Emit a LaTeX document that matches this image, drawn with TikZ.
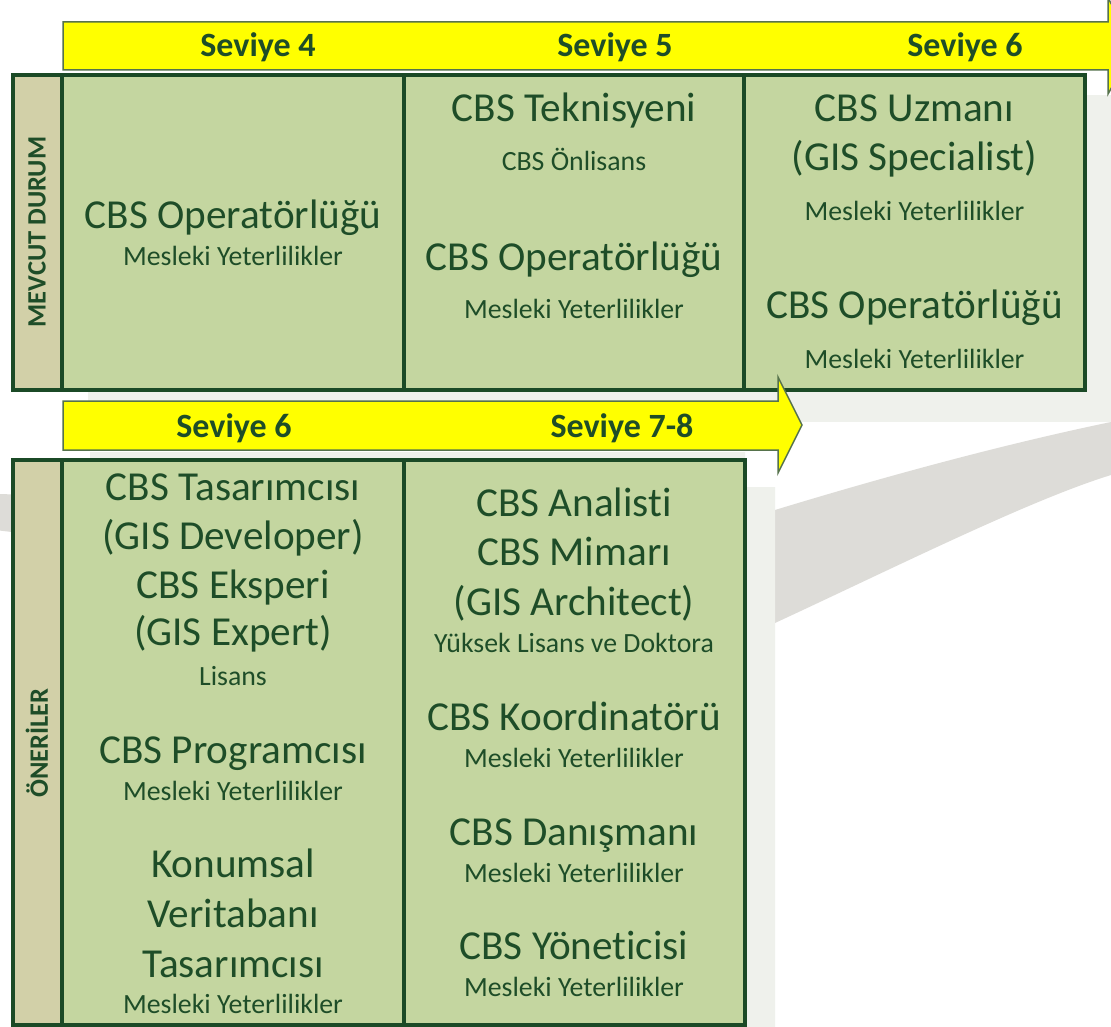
\documentclass[tikz,border=0pt]{standalone}
\usepackage{fontspec}
\setmainfont{Carlito}[Ligatures={NoCommon}]
\definecolor{txt}{HTML}{1E4D28}
\definecolor{edge}{HTML}{1B4A26}
\definecolor{cell}{HTML}{C4D6A0}
\definecolor{lab}{HTML}{D2D0A8}
\definecolor{bar}{HTML}{FFFF00}
\definecolor{barline}{HTML}{56734C}
\definecolor{swoosh}{HTML}{DDDCD8}
\definecolor{panel}{HTML}{EFF1EC}
\newcommand\cbsbig[4]{\node[bigt] (#1) at (#2,#3) {#4};}
\newcommand\cbssmall[4]{\node[smallt] (#1) at (#2,#3) {#4};}
\begin{document}
\begin{tikzpicture}[x=1pt,y=-1pt,
  cellbox/.style={fill=cell, draw=edge, line width=4pt},
  labbox/.style={fill=lab, draw=edge, line width=4pt},
  barshape/.style={fill=bar, draw=barline, line width=1.5pt, line join=miter},
  bigt/.style={anchor=base, text=txt, inner sep=0pt, font=\fontsize{41.2}{48}\selectfont},
  smallt/.style={anchor=base, text=txt, inner sep=0pt, font=\fontsize{27.8}{32}\selectfont},
  levt/.style={anchor=base, text=txt, inner sep=0pt, font=\bfseries\fontsize{34}{40}\selectfont},
  vlab/.style={rotate=90, anchor=center, text=txt, inner sep=0pt, font=\bfseries\fontsize{26.5}{30}\selectfont}]
\clip (0,0) rectangle (1111,1027);
\fill[white] (0,0) rectangle (1111,1027);
% background swoosh
\fill[swoosh] (-5,494) -- (775,510) .. controls (880,478) and (1000,445) .. (1111,422)
  -- (1120,420) -- (1120,472) -- (1111,475) .. controls (1030,500) and (900,565) .. (775,623)
  -- (-5,530) -- cycle;
% faint panels
\fill[panel] (88,95) rectangle (1111,422);
\fill[panel] (90,452) -- (745,452) -- (745,487) -- (775,487) -- (775,1030) -- (90,1030) -- cycle;
% top level bar
\draw[barshape] (63,22) -- (1108,22) -- (1108,-2) -- (1135,46) -- (1108,94) -- (1108,70) -- (63,70) -- cycle;
\node[levt] (s4) at (258,57) {Seviye 4};
\node[levt] (s5) at (615,57) {Seviye 5};
\node[levt] (s6a) at (965,57) {Seviye 6};
% top box
\draw[labbox] (13,75) rectangle (62,390);
\draw[cellbox] (62,75) rectangle (404,390);
\draw[cellbox] (404,75) rectangle (744,390);
\draw[cellbox] (744,75) rectangle (1085,390);
\node[vlab] (mevcut) at (37,232) {MEVCUT DURUM};
\cbsbig{a1}{233}{228.5}{CBS Operatörlüğü}
\cbssmall{a2}{233}{265.5}{Mesleki Yeterlilikler}
\cbsbig{b1}{574}{122}{CBS Teknisyeni}
\cbssmall{b2}{574}{170.5}{CBS Önlisans}
\cbsbig{b3}{574}{270.5}{CBS Operatörlüğü}
\cbssmall{b4}{574}{318.5}{Mesleki Yeterlilikler}
\cbsbig{c1}{914.5}{121.5}{CBS Uzmanı}
\cbsbig{c2}{914.5}{170.5}{(GIS Specialist)}
\cbssmall{c3}{914.5}{220.5}{Mesleki Yeterlilikler}
\cbsbig{c4}{914.5}{318.5}{CBS Operatörlüğü}
\cbssmall{c5}{914.5}{368.5}{Mesleki Yeterlilikler}
% second level bar
\draw[barshape] (63,401) -- (778,401) -- (778,377) -- (802,425) -- (778,473) -- (778,450) -- (63,450) -- cycle;
\node[levt] (s6b) at (234,437) {Seviye 6};
\node[levt] (s78) at (622,437) {Seviye 7-8};
% bottom box
\draw[labbox] (13,460) rectangle (62,1025);
\draw[cellbox] (62,460) rectangle (404,1025);
\draw[cellbox] (404,460) rectangle (745,1025);
\node[vlab] (oneri) at (37,743) {ÖNERİLER};
\cbsbig{d1}{233}{500}{CBS Tasarımcısı}
\cbsbig{d2}{233}{549}{(GIS Developer)}
\cbsbig{d3}{233}{598}{CBS Eksperi}
\cbsbig{d4}{233}{645}{(GIS Expert)}
\cbssmall{d5}{233}{685}{Lisans}
\cbsbig{d6}{233}{763}{CBS Programcısı}
\cbssmall{d7}{233}{800}{Mesleki Yeterlilikler}
\cbsbig{d8}{233}{877}{Konumsal}
\cbsbig{d9}{233}{927}{Veritabanı}
\cbsbig{d10}{233}{977}{Tasarımcısı}
\cbssmall{d11}{233}{1013}{Mesleki Yeterlilikler}
\cbsbig{e1}{574}{516}{CBS Analisti}
\cbsbig{e2}{574}{565}{CBS Mimarı}
\cbsbig{e3}{574}{615}{(GIS Architect)}
\cbssmall{e4}{574}{652}{Yüksek Lisans ve Doktora}
\cbsbig{e5}{574}{730}{CBS Koordinatörü}
\cbssmall{e6}{574}{767}{Mesleki Yeterlilikler}
\cbsbig{e7}{574}{845}{CBS Danışmanı}
\cbssmall{e8}{574}{882}{Mesleki Yeterlilikler}
\cbsbig{e9}{574}{959}{CBS Yöneticisi}
\cbssmall{e10}{574}{996}{Mesleki Yeterlilikler}
\end{tikzpicture}
\end{document}
